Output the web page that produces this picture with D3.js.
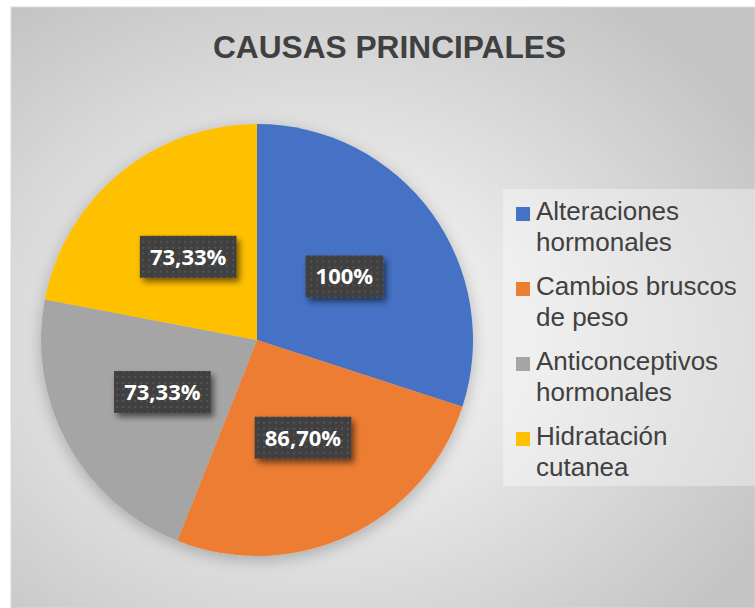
<!DOCTYPE html>
<html><head><meta charset="utf-8">
<script src="https://cdn.jsdelivr.net/npm/d3@7"></script>
<style>html,body{margin:0;padding:0;background:#fff;}svg{display:block;}</style>
</head><body>
<script>
const categories = ["Alteraciones hormonales","Cambios bruscos de peso","Anticonceptivos hormonales","Hidratación cutanea"];
const legendLines = [["Alteraciones","hormonales"],["Cambios bruscos","de peso"],["Anticonceptivos","hormonales"],["Hidratación","cutanea"]];
const values = [100, 86.70, 73.33, 73.33];
const valueLabels = ["100%","86,70%","73,33%","73,33%"];
const colors = ["#4472C4","#ED7D31","#A5A5A5","#FFC000"];
const title = "CAUSAS PRINCIPALES";

const W = 755, H = 608;
const svg = d3.select("body").append("svg").attr("width", W).attr("height", H);
const defs = svg.append("defs");

const rg = defs.append("radialGradient").attr("id","bg").attr("cx","0.42").attr("cy","0.55").attr("r","0.68");
rg.append("stop").attr("offset","0").attr("stop-color","#ffffff");
rg.append("stop").attr("offset","1").attr("stop-color","#c4c4c4");

const pat = defs.append("pattern").attr("id","dots").attr("width",6).attr("height",6).attr("patternUnits","userSpaceOnUse");
pat.append("rect").attr("width",6).attr("height",6).attr("fill","#3f3f3f");
pat.append("rect").attr("x",2).attr("y",2).attr("width",2).attr("height",2).attr("fill","#555555");

const sh = defs.append("filter").attr("id","sh").attr("x","-20%").attr("y","-20%").attr("width","150%").attr("height","160%");
sh.append("feGaussianBlur").attr("in","SourceAlpha").attr("stdDeviation",3);
sh.append("feOffset").attr("dx",3).attr("dy",4).attr("result","b");
sh.append("feComponentTransfer").append("feFuncA").attr("type","linear").attr("slope",0.55);
const m = sh.append("feMerge"); m.append("feMergeNode"); m.append("feMergeNode").attr("in","SourceGraphic");

const psh = defs.append("filter").attr("id","psh").attr("x","-20%").attr("y","-20%").attr("width","140%").attr("height","140%");
psh.append("feGaussianBlur").attr("in","SourceAlpha").attr("stdDeviation",8);
psh.append("feOffset").attr("dx",0).attr("dy",4).attr("result","b");
psh.append("feComponentTransfer").append("feFuncA").attr("type","linear").attr("slope",0.25);
const m2 = psh.append("feMerge"); m2.append("feMergeNode"); m2.append("feMergeNode").attr("in","SourceGraphic");

// chart area
svg.append("rect").attr("x",11).attr("y",7).attr("width",W-11).attr("height",H-7).attr("fill","url(#bg)").attr("stroke","#d9d9d9");

svg.append("text").attr("x",389.5).attr("y",58).attr("text-anchor","middle")
  .attr("font-family","'Liberation Sans',Arial,sans-serif")
  .attr("font-weight","bold").attr("font-size",32).attr("fill","#404040")
  .attr("textLength",353).attr("lengthAdjust","spacingAndGlyphs").text(title);

const cx = 257, cy = 340, R = 216;
const pie = d3.pie().sort(null).value(d => d);
const arcs = pie(values);
const arc = d3.arc().innerRadius(0).outerRadius(R);
const g = svg.append("g").attr("transform",`translate(${cx},${cy})`);
g.append("g").attr("filter","url(#psh)").selectAll("path").data(arcs).join("path")
  .attr("d", arc).attr("fill",(d,i)=>colors[i]);

const lg = g.selectAll("g.lbl").data(arcs).join("g").attr("class","lbl")
  .attr("transform", d => `translate(${arc.centroid(d)})`);
lg.each(function(d,i){
  const s = d3.select(this);
  const t = s.append("text").attr("text-anchor","middle").attr("dy","0.36em")
    .attr("font-family","'Open Sans','Noto Sans',sans-serif").attr("font-weight","bold")
    .attr("font-size",22).attr("fill","#ffffff").text(valueLabels[i]);
  const bb = t.node().getBBox();
  const w = bb.width + 20, h = 42;
  s.insert("rect","text").attr("x",-w/2).attr("y",-h/2).attr("width",w).attr("height",h)
    .attr("fill","url(#dots)").attr("filter","url(#sh)");
});

// legend
const lx = 503, ly = 189;
svg.append("rect").attr("x",lx).attr("y",ly).attr("width",W-lx).attr("height",297)
  .attr("fill","#ffffff").attr("fill-opacity",0.35);
const leg = svg.append("g");
legendLines.forEach((lines,i)=>{
  const y0 = 220 + i*75;
  leg.append("rect").attr("x",516).attr("y",y0-13).attr("width",14).attr("height",14).attr("fill",colors[i]);
  lines.forEach((ln,j)=>{
    leg.append("text").attr("x",536).attr("y",y0 + j*31)
      .attr("font-family","'Liberation Sans',Arial,sans-serif").attr("font-size",26)
      .attr("fill","#404040").text(ln);
  });
});
</script>
</body></html>
